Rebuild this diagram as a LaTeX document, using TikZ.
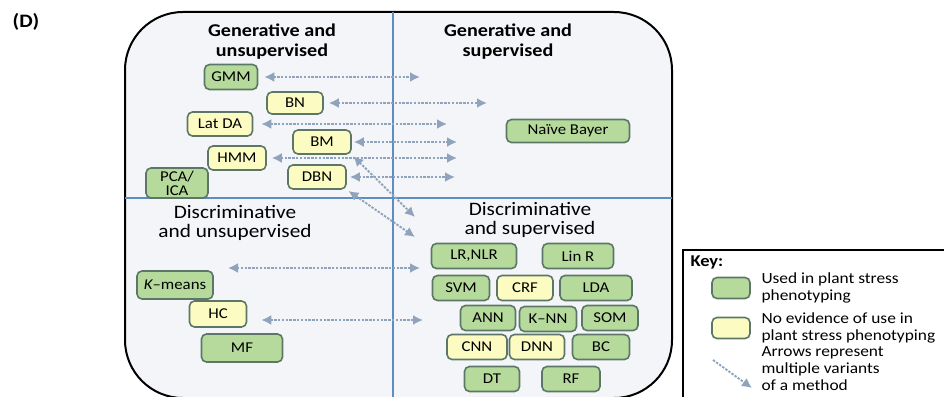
\documentclass[tikz,border=0pt]{standalone}
\usepackage{fontspec}
\setmainfont{Carlito}[FakeStretch=1.12]
\usetikzlibrary{arrows.meta}

\definecolor{usedgreen}{HTML}{B6DA9B}
\definecolor{noevyellow}{HTML}{FBFBC2}
\definecolor{methedge}{HTML}{5C7767}
\definecolor{quadline}{HTML}{5E8DC2}
\definecolor{arrowgrey}{HTML}{8FA4BC}
\definecolor{panelbg}{HTML}{F4F5F8}

\tikzset{
  meth/.style={draw=methedge, line width=1.6pt, rounded corners=5pt, minimum height=25pt,
    inner sep=2pt, font=\fontsize{15}{14}\selectfont, align=center},
  used/.style={meth, fill=usedgreen},
  noev/.style={meth, fill=noevyellow},
  quadtitle/.style={align=center, font=\bfseries\fontsize{18}{20}\selectfont},
  quadtitlereg/.style={align=center, font=\fontsize{19}{19}\selectfont},
  variant/.style={draw=arrowgrey, line width=1.9pt, dash pattern=on 2.4pt off 1.4pt,
    {Latex[length=10pt,width=10pt]}-{Latex[length=10pt,width=10pt]}},
  keytext/.style={anchor=west, align=left, font=\fontsize{15.5}{17}\selectfont}
}

\begin{document}
\begin{tikzpicture}[x=1pt,y=-1pt]
\useasboundingbox (0,0) rectangle (944,396);

\node[font=\bfseries\fontsize{19}{19}\selectfont] (panelD) at (26,22) {(D)};

% panel and quadrants
\draw[line width=2pt, fill=panelbg, rounded corners=58pt] (125,12) rectangle (672,398);
\draw[quadline, line width=1.2pt] (393,12) -- (393,398);
\draw[quadline, line width=1.2pt] (125,198) -- (672,198);

\node[quadtitle] (genuns) at (272,42) {Generative and\\unsupervised};
\node[quadtitle] (gensup) at (508,42) {Generative and\\supervised};
\node[quadtitlereg] (disuns) at (235,223) {Discriminative\\and unsupervised};
\node[quadtitlereg] (dissup) at (530,220) {Discriminative\\and supervised};

% generative
\node[used, minimum width=53pt] (gmm) at (231,77) {GMM};
\node[noev, minimum width=56pt, minimum height=22pt] (bn) at (295,103) {BN};
\node[noev, minimum width=65pt, minimum height=24pt] (latda) at (220,124) {Lat DA};
\node[noev, minimum width=58pt, minimum height=24pt] (bm) at (322,142) {BM};
\node[noev, minimum width=58pt, minimum height=24pt] (hmm) at (237,158) {HMM};
\node[used, minimum width=62pt, minimum height=30pt] (pcaica) at (177,183) {PCA/\\ICA};
\node[noev, minimum width=58pt, minimum height=24pt] (dbn) at (317,177) {DBN};
\node[used, minimum width=123pt, minimum height=23pt] (naive) at (568,131) {Naïve Bayer};

% discriminative
\node[used, minimum width=76pt, minimum height=28pt] (kmeans) at (175,285) {{\itshape K}--means};
\node[noev, minimum width=57pt, minimum height=26pt] (hc) at (218,314) {HC};
\node[used, minimum width=81pt, minimum height=28pt] (mf) at (242,348) {MF};

\node[used, minimum width=85pt] (lrnlr) at (474,256) {LR,NLR};
\node[used, minimum width=71pt] (linr) at (578,256) {Lin R};
\node[used, minimum width=57pt] (svm) at (461,288) {SVM};
\node[noev, minimum width=56pt] (crf) at (525,288) {CRF};
\node[used, minimum width=72pt] (lda) at (596,288) {LDA};
\node[used, minimum width=55pt] (ann) at (488,318) {ANN};
\node[used, minimum width=57pt] (knn) at (548,319) {K--NN};
\node[used, minimum width=56pt] (som) at (610,318) {SOM};
\node[noev, minimum width=60pt] (cnn) at (477,347) {CNN};
\node[noev, minimum width=55pt] (dnn) at (537,347) {DNN};
\node[used, minimum width=57pt] (bc) at (601,347) {BC};
\node[used, minimum width=55pt] (dt) at (492,379) {DT};
\node[used, minimum width=58pt] (rf) at (571,379) {RF};

% arrow ends
\coordinate (gmmR) at (420,77);
\coordinate (bnR) at (487,103);
\coordinate (latdaR) at (447,124);
\coordinate (bmR) at (457,142);
\coordinate (hmmR) at (457,158);
\coordinate (dbnR) at (455,177);
\coordinate (bmdiag) at (415,217);
\coordinate (dbndiag) at (415,237);
\coordinate (disL) at (228,268);
\coordinate (disR) at (420,268);
\coordinate (hcR) at (423,320);

\draw[variant, shorten <=6pt] (gmm) -- (gmmR);
\draw[variant, shorten <=5pt] (bn) -- (bnR);
\draw[variant, shorten <=8pt] (latda) -- (latdaR);
\draw[variant, shorten <=2pt] (bm) -- (bmR);
\draw[variant, shorten <=5pt] (hmm) -- (hmmR);
\draw[variant, shorten <=3pt] (dbn) -- (dbnR);
\draw[variant, shorten <=2pt] (bm.south east) -- (bmdiag);
\draw[variant, shorten <=2pt] (dbn.south east) -- (dbndiag);
\draw[variant] (disL) -- (disR);
\draw[variant, shorten <=14pt] ([yshift=-6pt]hc.east) -- (hcR);

% key
\draw[line width=1.5pt, fill=white] (683,250) rectangle (950,400);
\node[anchor=west, font=\bfseries\fontsize{16.5}{17}\selectfont] (keytitle) at (687,262) {Key:};
\node[used, minimum width=38pt, minimum height=21pt] (keyused) at (731,288) {};
\node[noev, minimum width=38pt, minimum height=21pt] (keynoev) at (731,328) {};
\coordinate (keyarrA) at (713,360);
\coordinate (keyarrB) at (752,388);
\draw[variant, -{Latex[length=10pt,width=10pt]}] (keyarrA) -- (keyarrB);
\node[keytext] (keyusedtxt) at (758,288) {Used in plant stress\\phenotyping};
\node[keytext] (keynoevtxt) at (758,328) {No evidence of use in\\plant stress phenotyping};
\node[keytext] (keyarrtxt) at (758,369) {Arrows represent\\multiple variants\\of a method};
\end{tikzpicture}
\end{document}
